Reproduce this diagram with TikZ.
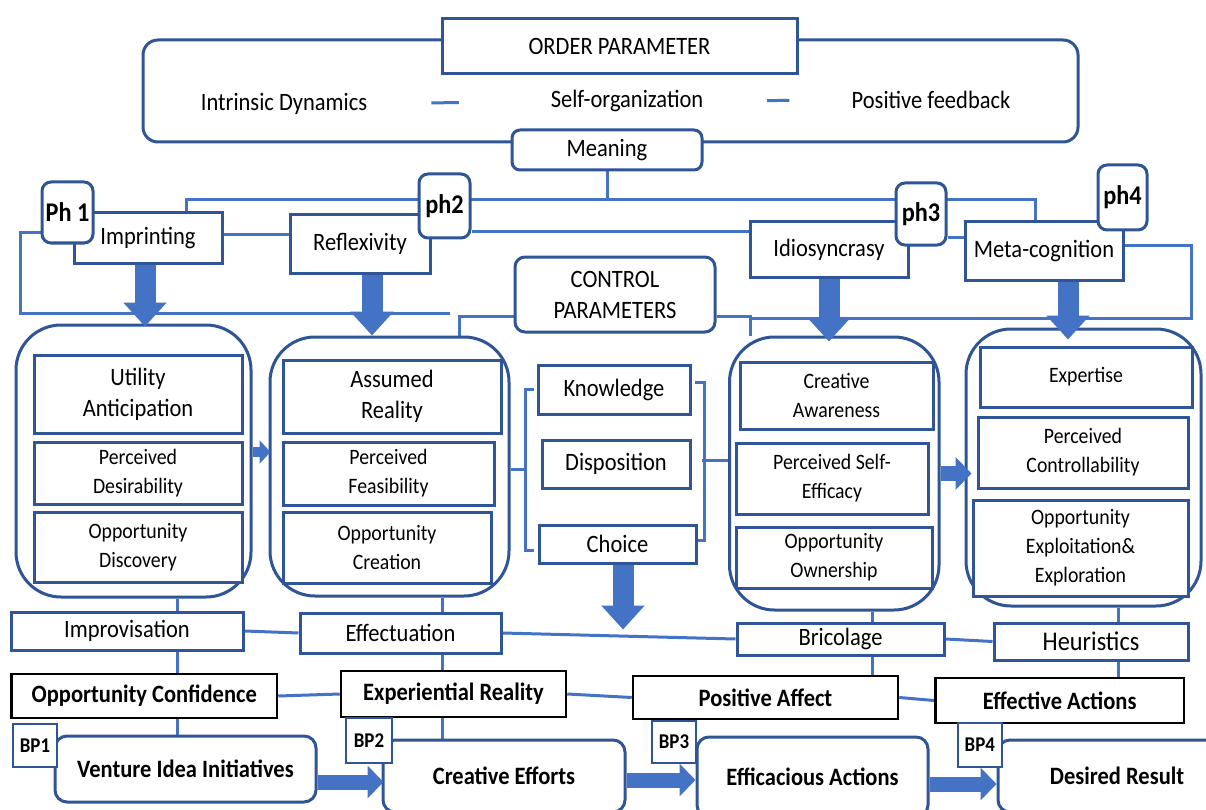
\documentclass[tikz,border=0pt]{standalone}
\usepackage{fontspec}
\setmainfont{Carlito}[FakeStretch=0.9]
\usetikzlibrary{arrows.meta}
\usetikzlibrary{calc}
\usetikzlibrary{backgrounds}

\definecolor{frameblue}{HTML}{2F5597}
\definecolor{linkblue}{HTML}{4472C4}

\begin{document}
\begin{tikzpicture}[x=1pt,y=-1pt,
      every node/.style={inner sep=0pt,font=\fontsize{25}{31}\selectfont},
      box/.style={rectangle,draw=frameblue,line width=3pt,fill=white,align=center},
      cell/.style={box,font=\fontsize{22}{29}\selectfont},
      group/.style={rectangle,draw=frameblue,line width=3pt,fill=white,rounded corners=45pt},
      ph/.style={box,rounded corners=9pt,font=\bfseries\fontsize{27}{30}\selectfont},
      bp/.style={box,line width=2pt,font=\bfseries\fontsize{21}{24}\selectfont},
      stage/.style={rectangle,draw=black,line width=2.5pt,fill=white,font=\bfseries\fontsize{25}{30}\selectfont},
      result/.style={box,rounded corners=12pt,font=\bfseries\fontsize{25}{30}\selectfont},
      link/.style={draw=linkblue,line width=3pt},
      push/.style={draw=linkblue,line width=21pt,-{Triangle[length=24pt,width=42pt]}},
      shove/.style={draw=linkblue,line width=15pt,-{Triangle[length=16pt,width=32pt]}},
      nudge/.style={draw=linkblue,line width=10pt,-{Triangle[length=11pt,width=23pt]}},
  ]
  \useasboundingbox (0,0) rectangle (1206,810);
  \clip (0,0) rectangle (1206,810);

  % Order parameter
  \node[box,rounded corners=15pt,minimum width=935pt,minimum height=102pt] (order) at (610.5,91) {};
  \node[box,minimum width=355pt,minimum height=55pt] (orderhead) at (619.5,46.5) {ORDER PARAMETER};
  \node (idyn) at (284,104) {Intrinsic Dynamics};
  \node (selforg) at (627,101) {Self-organization};
  \node (posfb) at (931,100) {Positive feedback};
  \draw[link] ($(idyn.east)!0.35!(selforg.west)$) -- ($(idyn.east)!0.5!(selforg.west)$);
  \draw[link] ($(selforg.east)!0.43!(posfb.west)$) -- ($(selforg.east)!0.58!(posfb.west)$);
  \node[box,rounded corners=8pt,minimum width=190pt,minimum height=40pt] (meaning) at (607,150) {Meaning};

  % Phases
  \node[box,minimum width=148pt,minimum height=50pt] (imp) at (148,238) {Imprinting};
  \node[box,minimum width=140pt,minimum height=58pt] (refl) at (360,244) {Reflexivity};
  \node[box,minimum width=158pt,minimum height=55pt] (idio) at (829,249.5) {Idiosyncrasy};
  \node[box,minimum width=158pt,minimum height=58pt] (meta) at (1044,251) {Meta-cognition};
  \node[ph,minimum width=51pt,minimum height=61pt] (phA) at (67.5,212.5) {Ph 1};
  \node[ph,minimum width=51pt,minimum height=64pt] (phB) at (444.5,206) {ph2};
  \node[ph,minimum width=50pt,minimum height=62pt] (phC) at (921,214) {ph3};
  \node[ph,minimum width=49pt,minimum height=65pt] (phD) at (1122.5,197.5) {ph4};

  % Groups
  \node[group,minimum width=235pt,minimum height=272pt] (boxA) at (133.5,461) {};
  \node[group,minimum width=239pt,minimum height=259pt] (boxB) at (389.5,466.5) {};
  \node[group,minimum width=209.5pt,minimum height=273pt] (boxC) at (834.25,473.5) {};
  \node[group,minimum width=235pt,minimum height=277pt] (boxD) at (1083.5,467.5) {};

  \node[box,minimum width=208pt,minimum height=78pt] (ua) at (138,394) {Utility\\Anticipation};
  \node[cell,minimum width=208pt,minimum height=62pt] (pd) at (138,473) {Perceived\\Desirability};
  \node[cell,minimum width=208pt,minimum height=70pt] (od) at (138,547) {Opportunity\\Discovery};

  \node[box,minimum width=218pt,minimum height=73pt] (ar) at (392,396.5) {Assumed\\Reality};
  \node[cell,minimum width=211pt,minimum height=63pt] (pf) at (388.5,473.5) {Perceived\\Feasibility};
  \node[cell,minimum width=208pt,minimum height=71pt] (oc) at (387,547.5) {Opportunity\\Creation};

  \node[cell,minimum width=193pt,minimum height=67pt] (ca) at (836.5,395.5) {Creative\\Awareness};
  \node[cell,minimum width=192pt,minimum height=71pt] (pse) at (832,478.5) {Perceived Self-\\Efficacy};
  \node[cell,minimum width=196pt,minimum height=61pt] (oo) at (834,557.5) {Opportunity\\Ownership};

  \node[cell,minimum width=212pt,minimum height=60pt] (expt) at (1086,377) {Expertise};
  \node[cell,minimum width=210pt,minimum height=71pt] (pc) at (1083,452.5) {Perceived\\Controllability};
  \node[cell,minimum width=215pt,minimum height=96pt] (oee) at (1080.5,548) {Opportunity\\Exploitation\&\\Exploration};

  % Control parameters
  \node[box,rounded corners=10pt,minimum width=200pt,minimum height=75pt] (cp) at (615,294.5) {CONTROL\\PARAMETERS};
  \node[box,minimum width=152pt,minimum height=49pt] (know) at (614,389.5) {Knowledge};
  \node[box,minimum width=148pt,minimum height=48pt] (disp) at (616,464) {Disposition};
  \node[box,minimum width=157pt,minimum height=38pt] (choice) at (617.5,544) {Choice};

  % Tools
  \node[box,minimum width=232pt,minimum height=38pt] (improv) at (127,631) {Improvisation};
  \node[box,minimum width=201pt,minimum height=40pt] (effect) at (400.5,633) {Effectuation};
  \node[box,minimum width=207pt,minimum height=32pt] (bric) at (840.5,639) {Bricolage};
  \node[box,minimum width=194pt,minimum height=37pt,font=\fontsize{27}{31}\selectfont] (heur) at (1091,641.5) {Heuristics};

  % Stages
  \node[stage,minimum width=265.5pt,minimum height=44pt] (oconf) at (144.25,696) {Opportunity Confidence};
  \node[stage,minimum width=225pt,minimum height=46pt] (expr) at (453.5,694) {Experiential Reality};
  \node[stage,minimum width=265pt,minimum height=43pt] (paff) at (765.5,697.5) {Positive Affect};
  \node[stage,minimum width=248.5pt,minimum height=45pt] (effa) at (1059.75,700.5) {Effective Actions};

  % Results
  \node[result,minimum width=261pt,minimum height=66pt] (vii) at (185.5,769) {Venture Idea Initiatives};
  \node[result,minimum width=242pt,minimum height=72pt] (ceff) at (504,776) {Creative Efforts};
  \node[result,minimum width=231pt,minimum height=80pt] (efac) at (812.5,777) {Efficacious Actions};
  \node[result,minimum width=238pt,minimum height=72pt] (dres) at (1117,776) {Desired Result};

  \node[bp,minimum width=44pt,minimum height=43pt] (bpA) at (35,745.5) {BP1};
  \node[bp,minimum width=46pt,minimum height=45pt] (bpB) at (369,740.5) {BP2};
  \node[bp,minimum width=44pt,minimum height=42pt] (bpC) at (674,742) {BP3};
  \node[bp,minimum width=44.5pt,minimum height=44pt] (bpD) at (979.75,745) {BP4};

  \coordinate (colA) at (177,0);
  \coordinate (colB) at (442,0);
  \coordinate (colC) at (872,0);
  \coordinate (colD) at (1118,0);
  \coordinate (loopL) at (450,313);
  \coordinate (loopR) at (750,318);

  \begin{scope}[on background layer]
    \fill[white] (0,0) rectangle (1206,810);

    % meaning bar
    \draw[link] (meaning.south) -- ++(0,28) coordinate (mbar);
    \draw[link] ($(imp.north)+(38,0)$) |- (mbar) -| ($(meta.north)+(-9,0)$);

    % phase links
    \draw[link] ([yshift=3pt]imp.east) -- ([yshift=3pt]imp.east -| refl.west);
    \draw[link] ([yshift=-26pt]phB.east) -- ([yshift=-26pt]phB.east -| idio.west);
    \draw[link] ([yshift=-24pt]phC.east) -- ([yshift=-24pt]phC.east -| meta.west);
    \draw[link] ([yshift=-20pt]phA.west) -- ++(-20,0) |- (loopL);
    \draw[link] ([yshift=6pt]meta.east) -- ++(67,0) |- (loopR);
    \draw[link] ([yshift=-21.5pt]cp.west) -| ($(boxB.north)+(69.5,0)$);
    \draw[link] ([yshift=-21.5pt]cp.east) -| ($(boxC.north)+(-84.25,0)$);

    % brackets
    \draw[link] ([xshift=-3pt]know.west) -- ++(-8,0) |- ([xshift=-4pt,yshift=-6pt]choice.west);
    \draw[link] ([yshift=-3pt]boxB.east) -- ++(16,0);
    \draw[link] ([xshift=3pt,yshift=7pt]know.east) -- ++(10,0) |- ([xshift=-1pt,yshift=4pt]choice.east);
    \draw[link] ([yshift=13.5pt]boxC.west) -- ++(-26,0);

    % columns
    \draw[link] (boxA.south -| colA) -- (improv.north -| colA);
    \draw[link] (improv.south -| colA) -- (oconf.north -| colA);
    \draw[link] (oconf.south -| colA) -- (vii.north -| colA);
    \draw[link] (boxB.south -| colB) -- (effect.north -| colB);
    \draw[link] (effect.south -| colB) -- (expr.north -| colB);
    \draw[link] (expr.south -| colB) -- (ceff.north -| colB);
    \draw[link] (boxC.south -| colC) -- (bric.north -| colC);
    \draw[link] (bric.south -| colC) -- (paff.north -| colC);
    \draw[link] (boxD.south -| colD) -- (heur.north -| colD);
    \draw[link] (heur.south -| colD) -- (effa.north -| colD);

    % rows
    \draw[link] (improv.east) -- (effect.west);
    \draw[link] (effect.east) -- (bric.west);
    \draw[link] (bric.east) -- (heur.west);
    \draw[link] (oconf.east) -- (expr.west);
    \draw[link] (expr.east) -- (paff.west);
    \draw[link] (paff.east) -- (effa.west);
  \end{scope}

  % block arrows
  \draw[push] ([xshift=-3pt]imp.south) -- ($(imp.south |- boxA.north)+(-3,3)$);
  \draw[push] ([xshift=12pt]refl.south) -- ($(refl.south |- boxB.north)+(12,0)$);
  \draw[push] (idio.south) -- ($(idio.south |- boxC.north)+(0,6)$);
  \draw[push] ([xshift=24pt]meta.south) -- ($(meta.south |- boxD.north)+(24,12)$);
  \draw[push] ([xshift=5.5pt]choice.south) -- ++(0,65);
  \draw[nudge] ([yshift=9pt]boxA.east) -- ($([yshift=9pt]boxA.east -| boxB.west)+(2,0)$);
  \draw[shove] (boxC.east) -- ($(boxC.east -| boxD.west)+(7,0)$);
  \draw[shove] ($(vii.east)+(0,13)$) -- ($(vii.east -| ceff.west)+(2,13)$);
  \draw[shove] ($(ceff.east)+(0,4)$) -- ($(ceff.east -| efac.west)+(0,4)$);
  \draw[shove] ($(efac.east)+(0,7)$) -- ($(efac.east -| dres.west)+(0,7)$);
\end{tikzpicture}
\end{document}
